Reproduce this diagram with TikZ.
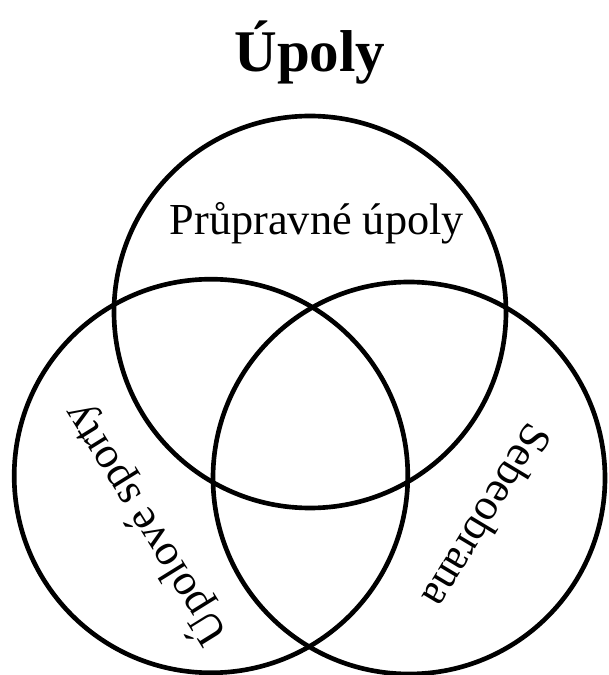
\documentclass[tikz,border=0pt]{standalone}
\usepackage{fontspec}
\setmainfont{Liberation Serif}
\usepackage{tikz}
\newcommand{\velky}[1]{{\fontsize{42}{50}\selectfont\bfseries #1}}
\newcommand{\stredni}[1]{{\fontsize{31.5}{37}\selectfont #1}}

\begin{document}
\begin{tikzpicture}
    \useasboundingbox (0,0) rectangle (15.2,16.875);
    \draw[line width=3.3pt] (7.75,9.075) circle (4.9);
    \draw[line width=3.3pt] (5.275,4.975) circle (4.92);
    \draw[line width=3.3pt] (10.225,4.925) circle (4.9);
    \node[anchor=base] (title) at (7.75,15.075) {\velky{Úpoly}};
    \node[anchor=base] (prup) at (7.92,11.0) {\stredni{Průpravné úpoly}};
    \node[rotate=121.8] (sporty) at (3.6,3.75) {\stredni{Úpolové sporty}};
    \node[rotate=-121] (sebe) at (12.2,3.95) {\stredni{Sebeobrana}};
\end{tikzpicture}
\end{document}
